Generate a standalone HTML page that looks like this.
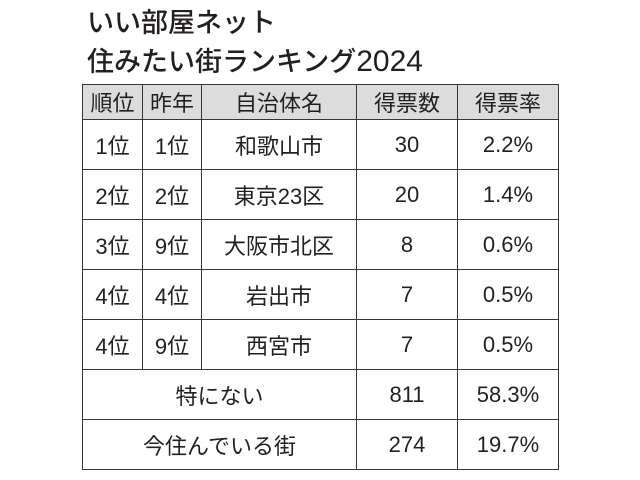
<!DOCTYPE html>
<html><head><meta charset="utf-8"><style>
body{margin:0;width:640px;height:480px;background:#fff;font-family:"Liberation Sans","Noto Sans CJK JP",sans-serif;color:#231f20;position:relative;overflow:hidden}
.t{position:absolute;left:87px;font-size:27px;line-height:30px;white-space:nowrap;font-weight:500}
table{position:absolute;left:82px;top:84px;border-collapse:collapse;font-size:22px}
td{border:1.5px solid #3a3436;text-align:center;padding:0;height:49px}
tr.h td{background:#dcdcdc;height:34px}
</style></head><body>
<div class="t" style="top:8px">いい部屋ネット</div>
<div class="t" style="top:47px">住みたい街ランキング<span style="font-size:30px">2024</span></div>
<table>
<colgroup><col style="width:60px"><col style="width:59px"><col style="width:155px"><col style="width:101px"><col style="width:101px"></colgroup>
<tr class="h"><td>順位</td><td>昨年</td><td>自治体名</td><td>得票数</td><td>得票率</td></tr>
<tr><td>1位</td><td>1位</td><td>和歌山市</td><td>30</td><td>2.2%</td></tr>
<tr><td>2位</td><td>2位</td><td>東京23区</td><td>20</td><td>1.4%</td></tr>
<tr><td>3位</td><td>9位</td><td>大阪市北区</td><td>8</td><td>0.6%</td></tr>
<tr><td>4位</td><td>4位</td><td>岩出市</td><td>7</td><td>0.5%</td></tr>
<tr><td>4位</td><td>9位</td><td>西宮市</td><td>7</td><td>0.5%</td></tr>
<tr><td colspan="3">特にない</td><td>811</td><td>58.3%</td></tr>
<tr><td colspan="3">今住んでいる街</td><td>274</td><td>19.7%</td></tr>
</table>
</body></html>
